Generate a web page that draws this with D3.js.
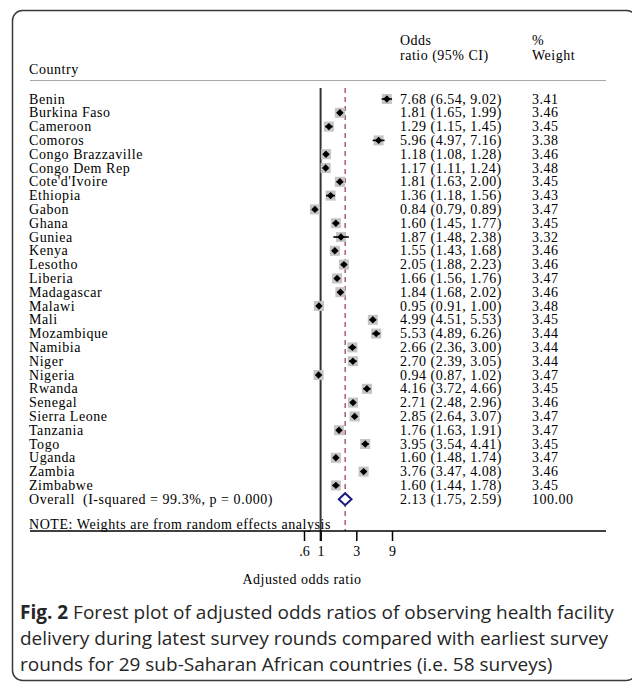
<!DOCTYPE html>
<html>
<head>
<meta charset="utf-8">
<script src="https://cdn.jsdelivr.net/npm/d3@7"></script>
<style>
  body { margin: 0; background: #fff; }
  text { font-family: "Liberation Serif", "Times New Roman", serif; fill: #000; white-space: pre; }
  .cap { font-family: "Open Sans", "Noto Sans", sans-serif; fill: #262626; }
</style>
</head>
<body>
<script>
const countries = ["Benin", "Burkina Faso", "Cameroon", "Comoros", "Congo Brazzaville", "Congo Dem Rep",
  "Cote'd'Ivoire", "Ethiopia", "Gabon", "Ghana", "Guniea", "Kenya", "Lesotho", "Liberia", "Madagascar",
  "Malawi", "Mali", "Mozambique", "Namibia", "Niger", "Nigeria", "Rwanda", "Senegal", "Sierra Leone",
  "Tanzania", "Togo", "Uganda", "Zambia", "Zimbabwe"];
const oddsRatio = [7.68, 1.81, 1.29, 5.96, 1.18, 1.17, 1.81, 1.36, 0.84, 1.60, 1.87, 1.55, 2.05, 1.66, 1.84,
  0.95, 4.99, 5.53, 2.66, 2.70, 0.94, 4.16, 2.71, 2.85, 1.76, 3.95, 1.60, 3.76, 1.60];
const ciLow = [6.54, 1.65, 1.15, 4.97, 1.08, 1.11, 1.63, 1.18, 0.79, 1.45, 1.48, 1.43, 1.88, 1.56, 1.68,
  0.91, 4.51, 4.89, 2.36, 2.39, 0.87, 3.72, 2.48, 2.64, 1.63, 3.54, 1.48, 3.47, 1.44];
const ciHigh = [9.02, 1.99, 1.45, 7.16, 1.28, 1.24, 2.00, 1.56, 0.89, 1.77, 2.38, 1.68, 2.23, 1.76, 2.02,
  1.00, 5.53, 6.26, 3.00, 3.05, 1.02, 4.66, 2.96, 3.07, 1.91, 4.41, 1.74, 4.08, 1.78];
const weights = [3.41, 3.46, 3.45, 3.38, 3.46, 3.48, 3.45, 3.43, 3.47, 3.45, 3.32, 3.46, 3.46, 3.47, 3.46,
  3.48, 3.45, 3.44, 3.44, 3.44, 3.47, 3.45, 3.46, 3.47, 3.47, 3.45, 3.47, 3.46, 3.45];
const overall = { label: "Overall  (I-squared = 99.3%, p = 0.000)", or: 2.13, lo: 1.75, hi: 2.59, weight: 100.00 };
const tickValues = [0.6, 1, 3, 9];
const tickLabels = [".6", "1", "3", "9"];

const rows = countries.map((c, i) => ({ name: c, or: oddsRatio[i], lo: ciLow[i], hi: ciHigh[i], w: weights[i] }));

const W = 632, H = 683;
const svg = d3.select("body").append("svg")
    .attr("width", W)
    .attr("height", H);

// outer frame
svg.append("rect")
    .attr("x", 12.5).attr("y", 10.5)
    .attr("width", 624).attr("height", 670)
    .attr("rx", 10)
    .attr("fill", "none")
    .attr("stroke", "#3a3a3a")
    .attr("stroke-width", 1.5);

const x = d3.scaleLog().domain([0.6, 9]).range([304, 392]);
const y = d3.scaleLinear().domain([0, 29]).range([99, 499.2]);

const colName = 29, colOR = 400, colW = 532, fs = 14;
const lsName = "0.55px", lsNum = "0.5px";
const axisY = 531, topY = 88;
const fmt = d3.format(".2f");

// headers
const hdr = svg.append("g").style("font-size", fs + "px");
hdr.append("text").attr("x", colName).attr("y", 74).style("letter-spacing", lsName).text("Country");
hdr.append("text").attr("x", colOR).attr("y", 45).style("letter-spacing", lsNum).text("Odds");
hdr.append("text").attr("x", colOR).attr("y", 60).style("letter-spacing", lsNum).text("ratio (95% CI)");
hdr.append("text").attr("x", colW).attr("y", 45).style("letter-spacing", lsNum).text("%");
hdr.append("text").attr("x", colW).attr("y", 60).style("letter-spacing", lsNum).text("Weight");

svg.append("line")
    .attr("x1", 30).attr("x2", 606)
    .attr("y1", 80.5).attr("y2", 80.5)
    .attr("stroke", "#a8a8a8").attr("stroke-width", 1.2);

// reference lines
svg.append("line")
    .attr("x1", x(1)).attr("x2", x(1))
    .attr("y1", topY).attr("y2", axisY + 10)
    .attr("stroke", "#333").attr("stroke-width", 2);
svg.append("line")
    .attr("x1", x(overall.or)).attr("x2", x(overall.or))
    .attr("y1", topY).attr("y2", axisY)
    .attr("stroke", "#a3303a").attr("stroke-width", 1.2)
    .attr("stroke-dasharray", "5,4");

// study rows
const g = svg.append("g").style("font-size", fs + "px");
const row = g.selectAll("g.row").data(rows).join("g").attr("class", "row");

row.append("text").attr("x", colName).attr("y", (d, i) => y(i) + 4.6)
    .style("letter-spacing", lsName).text(d => d.name);
row.append("text").attr("x", colOR).attr("y", (d, i) => y(i) + 4.6)
    .style("letter-spacing", lsNum)
    .text(d => `${fmt(d.or)} (${fmt(d.lo)}, ${fmt(d.hi)})`);
row.append("text").attr("x", colW).attr("y", (d, i) => y(i) + 4.6)
    .style("letter-spacing", lsNum).text(d => fmt(d.w));

const boxSide = d => Math.sqrt(d.w) * 5.4;
row.append("rect")
    .attr("x", d => x(d.or) - boxSide(d) / 2)
    .attr("y", (d, i) => y(i) - boxSide(d) / 2)
    .attr("width", boxSide).attr("height", boxSide)
    .attr("fill", "#c4c4c4");
row.append("line")
    .attr("x1", d => x(d.lo)).attr("x2", d => x(d.hi))
    .attr("y1", (d, i) => y(i)).attr("y2", (d, i) => y(i))
    .attr("stroke", "#000").attr("stroke-width", 1.6);
row.append("path")
    .attr("d", (d, i) => {
      const cx = x(d.or), cy = y(i), r = 3.7;
      return `M${cx - r},${cy}L${cx},${cy - r}L${cx + r},${cy}L${cx},${cy + r}Z`;
    })
    .attr("fill", "#000");

// overall
const oy = y(29);
g.append("text").attr("x", colName).attr("y", oy + 4.6)
    .style("letter-spacing", lsName).text(overall.label);
g.append("text").attr("x", colOR).attr("y", oy + 4.6)
    .style("letter-spacing", lsNum)
    .text(`${fmt(overall.or)} (${fmt(overall.lo)}, ${fmt(overall.hi)})`);
g.append("text").attr("x", colW).attr("y", oy + 4.6)
    .style("letter-spacing", lsNum).text(fmt(overall.weight));
g.append("path")
    .attr("d", `M${x(overall.lo)},${oy}L${x(overall.or)},${oy - 6}L${x(overall.hi)},${oy}L${x(overall.or)},${oy + 6}Z`)
    .attr("fill", "#fff")
    .attr("stroke", "#1a1a80").attr("stroke-width", 2);

g.append("text").attr("x", colName).attr("y", axisY - 2)
    .style("letter-spacing", lsName)
    .text("NOTE: Weights are from random effects analysis");

// axis
svg.append("line")
    .attr("x1", 30).attr("x2", 606)
    .attr("y1", axisY).attr("y2", axisY)
    .attr("stroke", "#000").attr("stroke-width", 1.5);

const axis = svg.append("g")
    .attr("transform", `translate(0,${axisY})`)
    .call(d3.axisBottom(x).tickValues(tickValues).tickSize(10).tickPadding(5)
      .tickFormat((d, i) => tickLabels[i]));
axis.select(".domain").remove();
axis.selectAll(".tick line").attr("stroke", "#000").attr("stroke-width", 1.5);
axis.selectAll(".tick text")
    .style("font-family", "Liberation Serif, serif")
    .style("font-size", fs + "px")
    .attr("fill", "#000");

svg.append("text")
    .attr("x", 302).attr("y", 584)
    .attr("text-anchor", "middle")
    .style("font-size", fs + "px")
    .style("letter-spacing", lsNum)
    .text("Adjusted odds ratio");

// caption
const capLines = [
  [["Fig. 2", true], [" Forest plot of adjusted odds ratios of observing health facility", false]],
  [["delivery during latest survey rounds compared with earliest survey", false]],
  [["rounds for 29 sub-Saharan African countries (i.e. 58 surveys)", false]]
];
capLines.forEach((parts, i) => {
  const t = svg.append("text").attr("class", "cap")
      .attr("x", 20).attr("y", 619 + i * 26)
      .style("font-size", "19px");
  parts.forEach(p => t.append("tspan").attr("font-weight", p[1] ? "bold" : null).text(p[0]));
});
</script>
</body>
</html>
